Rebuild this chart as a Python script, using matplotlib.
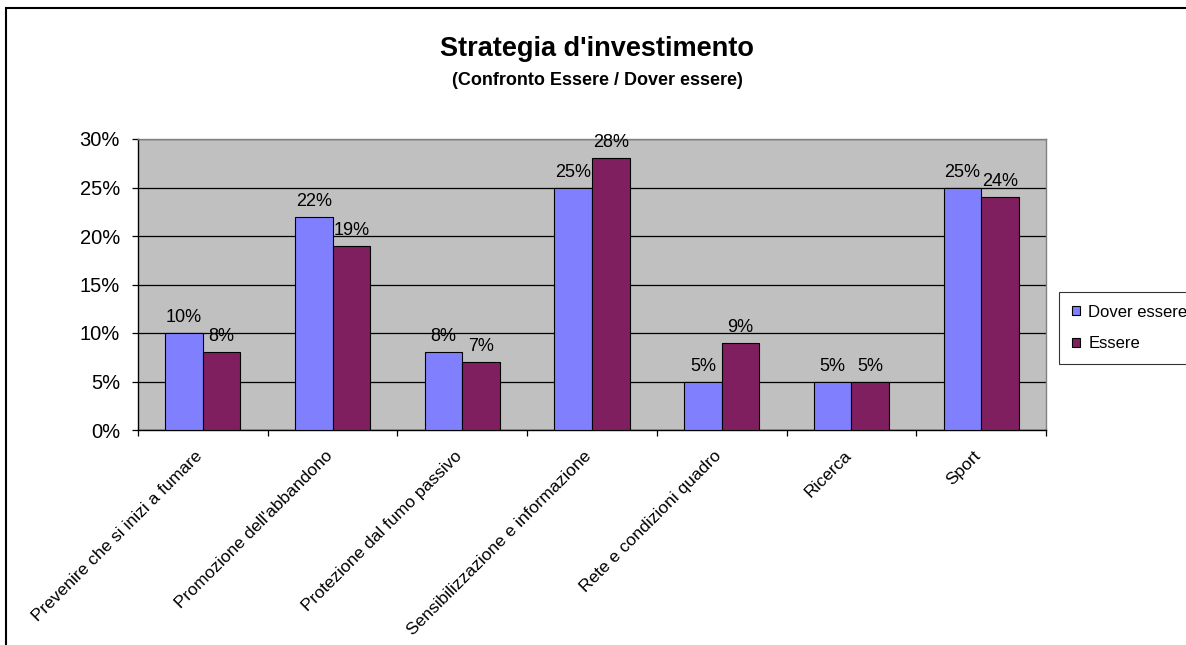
import matplotlib
matplotlib.use("Agg")
import matplotlib.pyplot as plt
import matplotlib.transforms as mtransforms
import numpy as np
from matplotlib.patches import Rectangle
from matplotlib.ticker import FixedLocator, PercentFormatter

plt.rcParams['font.family'] = ['Liberation Sans', 'DejaVu Sans']

# dati
categorie = ["Prevenire che si inizi a fumare", "Promozione dell'abbandono",
             "Protezione dal fumo passivo", "Sensibilizzazione e informazione",
             "Rete e condizioni quadro", "Ricerca", "Sport"]
dover_essere = [10, 22, 8, 25, 5, 5, 25]
essere = [8, 19, 7, 28, 9, 5, 24]
serie_nomi = ["Dover essere", "Essere"]
colori = ["#8080FF", "#7F1F5F"]

W, H = 1186, 645
fig = plt.figure(figsize=(W / 100, H / 100), dpi=100)
ax = fig.add_axes([138 / W, 1 - 430 / H, (1046 - 138) / W, (430 - 139) / H])
ax.set_facecolor("#C0C0C0")

x = np.arange(len(categorie))
bw = 0.29
b1 = ax.bar(x - bw / 2, dover_essere, bw, color=colori[0], edgecolor="black", linewidth=0.8,
            label=serie_nomi[0], zorder=3)
b2 = ax.bar(x + bw / 2, essere, bw, color=colori[1], edgecolor="black", linewidth=0.8,
            label=serie_nomi[1], zorder=3)

for bars in (b1, b2):
    for r in bars:
        v = r.get_height()
        ax.annotate(f"{v:.0f}%", (r.get_x() + r.get_width() / 2, v), xytext=(0, 5),
                    textcoords="offset points", ha="center", va="bottom", fontsize=13, zorder=4)

ax.set_xlim(-0.5, len(categorie) - 0.5)
ax.set_ylim(0, 30)
ax.set_yticks(np.arange(0, 31, 5))
ax.yaxis.set_major_formatter(PercentFormatter(decimals=0))
ax.yaxis.grid(True, color="black", linewidth=0.9, zorder=1)
ax.tick_params(axis="y", labelsize=14.5, length=4.5, width=0.9, pad=8.5, direction="out")

ax.set_xticks(x)
ax.set_xticklabels(categorie, rotation=45, ha="right", va="top", rotation_mode="anchor",
                   fontsize=12.5)
ax.tick_params(axis="x", length=0, pad=13)
# sposta un po' a sinistra le etichette ruotate
shift = mtransforms.ScaledTranslation(-8 / 100, 0, fig.dpi_scale_trans)
for lab in ax.get_xticklabels():
    lab.set_transform(lab.get_transform() + shift)
ax.xaxis.set_minor_locator(FixedLocator(np.arange(-0.5, len(categorie), 1)))
ax.tick_params(axis="x", which="minor", length=4.5, width=0.9)

for s in ("top", "right"):
    ax.spines[s].set_color("#808080")
for s in ("left", "bottom"):
    ax.spines[s].set_color("black")
for s in ax.spines.values():
    s.set_linewidth(1.0)

fig.text(597 / W, 1 - 56 / H, "Strategia d'investimento", ha="center", va="baseline",
         fontsize=19.5, fontweight="bold")
fig.text(597 / W, 1 - 85 / H, "(Confronto Essere / Dover essere)", ha="center", va="baseline",
         fontsize=13, fontweight="bold")

leg = fig.legend(loc="upper left", bbox_to_anchor=(1059 / W, 1 - 292 / H), fontsize=12,
                 frameon=True, fancybox=False, edgecolor="black", borderpad=0.75,
                 handlelength=0.5, handleheight=0.5, handletextpad=0.5, labelspacing=1.0,
                 borderaxespad=0)
leg.get_frame().set_linewidth(0.8)

# cornice del grafico
fig.patches.append(Rectangle((6 / W, -0.1), 1.2, 1 - 8 / H + 0.1, transform=fig.transFigure,
                             fill=False, edgecolor="black", linewidth=1.5))

fig.savefig("out.png", dpi=100)
